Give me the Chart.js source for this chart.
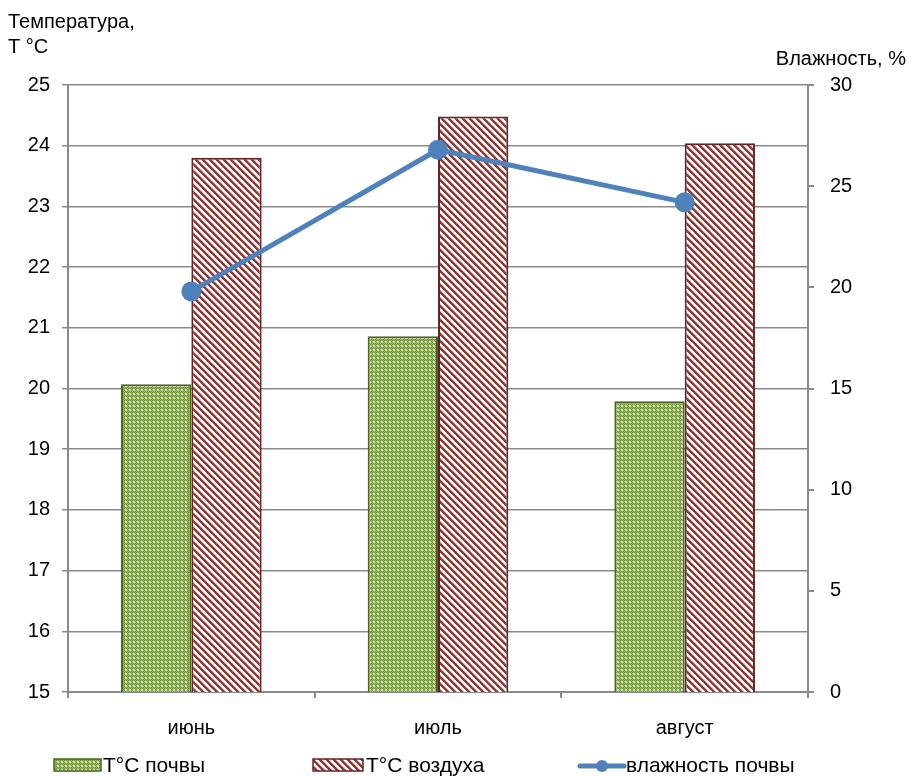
<!DOCTYPE html>
<html>
<head>
<meta charset="utf-8">
<script src="https://cdn.jsdelivr.net/npm/chart.js@4/dist/chart.umd.min.js"></script>
<style>
  body { margin: 0; background: #fff; }
  #wrap { width: 918px; height: 776px; position: relative; }
</style>
</head>
<body>
<div id="wrap"><canvas id="chart"></canvas></div>
<script>
// данные графика
var months = ['июнь', 'июль', 'август'];
var soilTemp = [20.07, 20.86, 19.79];
var airTemp = [23.8, 24.48, 24.04];
var soilMoisture = [19.8, 26.8, 24.2];
var seriesNames = ['T°C почвы', 'T°C воздуха', 'влажность почвы'];
var leftTitle = ['Температура,', 'T °C'];
var rightTitle = 'Влажность, %';

var FONT = '"Liberation Sans", Arial, sans-serif';
var GRID = '#8a8a8a';
var BLUE = '#4f81bd';

function makeGreenPattern() {
  var c = document.createElement('canvas');
  c.width = 4; c.height = 4;
  var g = c.getContext('2d');
  g.fillStyle = '#739638';
  g.fillRect(0, 0, 4, 4);
  for (var y = 0; y < 4; y++) {
    for (var x = 0; x < 4; x++) {
      if ((x == 1 || x == 2) && (y == 1 || y == 2)) {
        g.fillStyle = '#d3e3b9';
        g.fillRect(x, y, 1, 1);
      } else if ((x + y) % 2 == 1) {
        g.fillStyle = '#98b766';
        g.fillRect(x, y, 1, 1);
      }
    }
  }
  return g.createPattern(c, 'repeat');
}

function makeRedPattern() {
  var c = document.createElement('canvas');
  c.width = 7; c.height = 7;
  var g = c.getContext('2d');
  g.fillStyle = '#ffffff';
  g.fillRect(0, 0, 7, 7);
  for (var y = 0; y < 7; y++) {
    for (var x = 0; x < 7; x++) {
      var d = ((x - y) % 7 + 7) % 7;
      if (d < 3) { g.fillStyle = '#953735'; g.fillRect(x, y, 1, 1); }
      else if (d == 3) { g.fillStyle = '#d9a9a8'; g.fillRect(x, y, 1, 1); }
    }
  }
  return g.createPattern(c, 'repeat');
}

var greenFill = makeGreenPattern();
var redFill = makeRedPattern();

// подписи осей и легенда
var extras = {
  id: 'extras',
  afterDraw: function (chart) {
    var ctx = chart.ctx;
    ctx.save();
    ctx.fillStyle = '#000';
    ctx.font = '20px ' + FONT;
    ctx.textBaseline = 'alphabetic';
    ctx.textAlign = 'left';
    ctx.fillText(leftTitle[0], 8, 28);
    ctx.fillText(leftTitle[1], 8, 53);
    ctx.textAlign = 'right';
    ctx.fillText(rightTitle, 906, 65);

    // легенда
    var ly = 766;
    ctx.textAlign = 'left';
    ctx.textBaseline = 'middle';
    ctx.font = '21px ' + FONT;

    ctx.fillStyle = greenFill;
    ctx.fillRect(54, 759, 47, 12);
    ctx.strokeStyle = '#4f6228';
    ctx.lineWidth = 1.5;
    ctx.strokeRect(54, 759, 47, 12);
    ctx.fillStyle = '#000';
    ctx.fillText(seriesNames[0], 103, ly);

    ctx.fillStyle = redFill;
    ctx.fillRect(313, 759, 50, 12);
    ctx.strokeStyle = '#632523';
    ctx.strokeRect(313, 759, 50, 12);
    ctx.fillStyle = '#000';
    ctx.fillText(seriesNames[1], 366, ly);

    ctx.strokeStyle = BLUE;
    ctx.lineWidth = 5;
    ctx.lineCap = 'round';
    ctx.beginPath();
    ctx.moveTo(580, 766);
    ctx.lineTo(624, 766);
    ctx.stroke();
    ctx.fillStyle = BLUE;
    ctx.beginPath();
    ctx.arc(602, 766, 6, 0, Math.PI * 2);
    ctx.fill();
    ctx.fillStyle = '#000';
    ctx.fillText(seriesNames[2], 626, ly);
    ctx.restore();
  }
};

var ctx = document.getElementById('chart').getContext('2d');
var chart = new Chart(ctx, {
  type: 'bar',
  data: {
    labels: months,
    datasets: [{
      type: 'line',
      label: seriesNames[2],
      data: soilMoisture,
      yAxisID: 'y1',
      borderColor: BLUE,
      backgroundColor: BLUE,
      borderWidth: 5,
      pointRadius: 10,
      pointHoverRadius: 10,
      pointBackgroundColor: BLUE,
      pointBorderWidth: 0,
      tension: 0,
      order: 0
    }, {
      label: seriesNames[0],
      data: soilTemp,
      yAxisID: 'y',
      backgroundColor: greenFill,
      borderColor: '#4f6228',
      borderWidth: 2,
      categoryPercentage: 0.57,
      barPercentage: 1.0,
      order: 1
    }, {
      label: seriesNames[1],
      data: airTemp,
      yAxisID: 'y',
      backgroundColor: redFill,
      borderColor: '#632523',
      borderWidth: 2,
      categoryPercentage: 0.57,
      barPercentage: 1.0,
      order: 1
    }]
  },
  options: {
    responsive: true,
    maintainAspectRatio: false,
    animation: false,
    layout: { padding: { top: 85, left: 0, right: 0, bottom: 0 } },
    plugins: {
      legend: { display: false },
      tooltip: { enabled: false }
    },
    scales: {
      x: {
        grid: { offset: true, drawOnChartArea: false, tickLength: 6, color: GRID, lineWidth: 2 },
        border: { color: GRID, width: 2 },
        ticks: { color: '#000', font: { family: FONT, size: 20 }, padding: 18 },
        afterFit: function (s) { s.height = 84; }
      },
      y: {
        position: 'left',
        min: 15, max: 25,
        ticks: { stepSize: 1, color: '#000', font: { family: FONT, size: 20 }, padding: 12 },
        grid: { color: GRID, lineWidth: 1.5, tickLength: 6 },
        border: { color: GRID, width: 2 },
        afterFit: function (s) { s.width = 68; }
      },
      y1: {
        position: 'right',
        min: 0, max: 30,
        ticks: { stepSize: 5, color: '#000', font: { family: FONT, size: 20 }, padding: 16 },
        grid: { drawOnChartArea: false, color: GRID, lineWidth: 2, tickLength: 6 },
        border: { color: GRID, width: 2 },
        afterFit: function (s) { s.width = 110; }
      }
    }
  },
  plugins: [extras]
});
</script>
</body>
</html>
